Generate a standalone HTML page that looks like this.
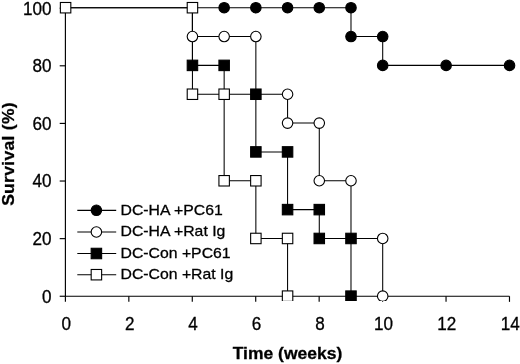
<!DOCTYPE html>
<html><head><meta charset="utf-8"><title>Survival</title>
<style>html,body{margin:0;padding:0;background:#fff;}svg{display:block;will-change:transform;}text{font-family:"Liberation Sans",sans-serif;fill:#000;stroke:#000;stroke-width:0.3px;}</style></head>
<body>
<svg width="520" height="364" viewBox="0 0 520 364">
<rect width="520" height="364" fill="#fff"/>
<g stroke="#000" stroke-width="1.15" fill="none">
<path d="M65.4 8.19V296.25H509.48"/>
<path d="M65.4 296.25v5.6"/>
<path d="M128.84 296.25v5.6"/>
<path d="M192.28 296.25v5.6"/>
<path d="M255.72 296.25v5.6"/>
<path d="M319.16 296.25v5.6"/>
<path d="M382.6 296.25v5.6"/>
<path d="M446.04 296.25v5.6"/>
<path d="M509.48 296.25v5.6"/>
<path d="M65.4 296.25h-5.7"/>
<path d="M65.4 238.64h-5.7"/>
<path d="M65.4 181.03h-5.7"/>
<path d="M65.4 123.41h-5.7"/>
<path d="M65.4 65.8h-5.7"/>
<path d="M65.4 8.19h-5.7"/>
</g>
<g font-size="17.1">
<text transform="translate(51.6 302.7) scale(1 1.03)" text-anchor="end">0</text>
<text transform="translate(51.6 245.09) scale(1 1.03)" text-anchor="end">20</text>
<text transform="translate(51.6 187.48) scale(1 1.03)" text-anchor="end">40</text>
<text transform="translate(51.6 129.86) scale(1 1.03)" text-anchor="end">60</text>
<text transform="translate(51.6 72.25) scale(1 1.03)" text-anchor="end">80</text>
<text transform="translate(51.6 14.64) scale(1 1.03)" text-anchor="end">100</text>
<text transform="translate(66.2 330.3) scale(1 1.03)" text-anchor="middle">0</text>
<text transform="translate(129.64 330.3) scale(1 1.03)" text-anchor="middle">2</text>
<text transform="translate(193.08 330.3) scale(1 1.03)" text-anchor="middle">4</text>
<text transform="translate(256.52 330.3) scale(1 1.03)" text-anchor="middle">6</text>
<text transform="translate(319.96 330.3) scale(1 1.03)" text-anchor="middle">8</text>
<text transform="translate(383.4 330.3) scale(1 1.03)" text-anchor="middle">10</text>
<text transform="translate(446.84 330.3) scale(1 1.03)" text-anchor="middle">12</text>
<text transform="translate(510.28 330.3) scale(1 1.03)" text-anchor="middle">14</text>
</g>
<text transform="translate(287.5 359.2) scale(1 0.98)" stroke-width="0.1" text-anchor="middle" font-size="17.5" font-weight="bold">Time (weeks)</text>
<text transform="translate(13.8 154.0) rotate(-90) scale(1 0.98)" stroke-width="0.1" text-anchor="middle" font-size="17.5" letter-spacing="0.3" font-weight="bold">Survival (%)</text>
<defs><clipPath id="c"><rect x="0" y="0" width="520" height="300.9"/></clipPath></defs>
<g clip-path="url(#c)">
<path d="M65.6 7.7 L350.99 7.7 L350.99 36.54 L382.7 36.54 L382.7 65.39 L509.54 65.39" fill="none" stroke="#000" stroke-width="1.05"/>
<path d="M192.44 7.7 L192.44 36.54 L255.86 36.54 L255.86 94.23 L287.57 94.23 L287.57 123.08 L319.28 123.08 L319.28 180.77 L350.99 180.77 L350.99 238.46 L382.7 238.46 L382.7 296.15" fill="none" stroke="#000" stroke-width="1.05"/>
<path d="M192.44 7.7 L192.44 65.39 L224.15 65.39 L224.15 94.23 L255.86 94.23 L255.86 151.92 L287.57 151.92 L287.57 209.61 L319.28 209.61 L319.28 238.46 L350.99 238.46 L350.99 296.15" fill="none" stroke="#000" stroke-width="1.05"/>
<path d="M65.6 7.7 L192.44 7.7 L192.44 94.23 L224.15 94.23 L224.15 180.77 L255.86 180.77 L255.86 238.46 L287.57 238.46 L287.57 296.15" fill="none" stroke="#000" stroke-width="1.05"/>
<circle cx="224.15" cy="7.7" r="5.25" fill="#000" stroke="#000" stroke-width="1.1"/>
<circle cx="255.86" cy="7.7" r="5.25" fill="#000" stroke="#000" stroke-width="1.1"/>
<circle cx="287.57" cy="7.7" r="5.25" fill="#000" stroke="#000" stroke-width="1.1"/>
<circle cx="319.28" cy="7.7" r="5.25" fill="#000" stroke="#000" stroke-width="1.1"/>
<circle cx="350.99" cy="7.7" r="5.25" fill="#000" stroke="#000" stroke-width="1.1"/>
<circle cx="350.99" cy="36.54" r="5.25" fill="#000" stroke="#000" stroke-width="1.1"/>
<circle cx="382.7" cy="36.54" r="5.25" fill="#000" stroke="#000" stroke-width="1.1"/>
<circle cx="382.7" cy="65.39" r="5.25" fill="#000" stroke="#000" stroke-width="1.1"/>
<circle cx="446.12" cy="65.39" r="5.25" fill="#000" stroke="#000" stroke-width="1.1"/>
<circle cx="509.54" cy="65.39" r="5.25" fill="#000" stroke="#000" stroke-width="1.1"/>
<circle cx="192.44" cy="36.54" r="5.25" fill="#fff" stroke="#000" stroke-width="1.1"/>
<circle cx="224.15" cy="36.54" r="5.25" fill="#fff" stroke="#000" stroke-width="1.1"/>
<circle cx="255.86" cy="36.54" r="5.25" fill="#fff" stroke="#000" stroke-width="1.1"/>
<circle cx="287.57" cy="94.23" r="5.25" fill="#fff" stroke="#000" stroke-width="1.1"/>
<circle cx="287.57" cy="123.08" r="5.25" fill="#fff" stroke="#000" stroke-width="1.1"/>
<circle cx="319.28" cy="123.08" r="5.25" fill="#fff" stroke="#000" stroke-width="1.1"/>
<circle cx="319.28" cy="180.77" r="5.25" fill="#fff" stroke="#000" stroke-width="1.1"/>
<circle cx="350.99" cy="180.77" r="5.25" fill="#fff" stroke="#000" stroke-width="1.1"/>
<circle cx="382.7" cy="238.46" r="5.25" fill="#fff" stroke="#000" stroke-width="1.1"/>
<circle cx="382.7" cy="296.15" r="5.25" fill="#fff" stroke="#000" stroke-width="1.1"/>
<rect x="187.22" y="60.16" width="10.45" height="10.45" fill="#000" stroke="#000" stroke-width="1.1"/>
<rect x="218.93" y="60.16" width="10.45" height="10.45" fill="#000" stroke="#000" stroke-width="1.1"/>
<rect x="250.64" y="89.01" width="10.45" height="10.45" fill="#000" stroke="#000" stroke-width="1.1"/>
<rect x="250.64" y="146.69" width="10.45" height="10.45" fill="#000" stroke="#000" stroke-width="1.1"/>
<rect x="282.34" y="146.69" width="10.45" height="10.45" fill="#000" stroke="#000" stroke-width="1.1"/>
<rect x="282.34" y="204.39" width="10.45" height="10.45" fill="#000" stroke="#000" stroke-width="1.1"/>
<rect x="314.05" y="204.39" width="10.45" height="10.45" fill="#000" stroke="#000" stroke-width="1.1"/>
<rect x="314.05" y="233.24" width="10.45" height="10.45" fill="#000" stroke="#000" stroke-width="1.1"/>
<rect x="345.76" y="233.24" width="10.45" height="10.45" fill="#000" stroke="#000" stroke-width="1.1"/>
<rect x="345.76" y="290.92" width="10.45" height="10.45" fill="#000" stroke="#000" stroke-width="1.1"/>
<rect x="60.37" y="2.48" width="10.45" height="10.45" fill="#fff" stroke="#000" stroke-width="1.1"/>
<rect x="187.22" y="2.48" width="10.45" height="10.45" fill="#fff" stroke="#000" stroke-width="1.1"/>
<rect x="187.22" y="89.01" width="10.45" height="10.45" fill="#fff" stroke="#000" stroke-width="1.1"/>
<rect x="218.93" y="89.01" width="10.45" height="10.45" fill="#fff" stroke="#000" stroke-width="1.1"/>
<rect x="218.93" y="175.55" width="10.45" height="10.45" fill="#fff" stroke="#000" stroke-width="1.1"/>
<rect x="250.64" y="175.55" width="10.45" height="10.45" fill="#fff" stroke="#000" stroke-width="1.1"/>
<rect x="250.64" y="233.24" width="10.45" height="10.45" fill="#fff" stroke="#000" stroke-width="1.1"/>
<rect x="282.34" y="233.24" width="10.45" height="10.45" fill="#fff" stroke="#000" stroke-width="1.1"/>
<rect x="282.34" y="290.92" width="10.45" height="10.45" fill="#fff" stroke="#000" stroke-width="1.1"/>
</g>
<path d="M77.3 210.3H116.2" stroke="#000" stroke-width="1.15"/>
<circle cx="96.4" cy="210.3" r="5.25" fill="#000" stroke="#000" stroke-width="1.1"/>
<text transform="translate(120.5 214.7) scale(1 0.97)" font-size="15.8">DC-HA +PC61</text>
<path d="M77.3 232.0H116.2" stroke="#000" stroke-width="1.15"/>
<circle cx="96.4" cy="232.0" r="5.25" fill="#fff" stroke="#000" stroke-width="1.1"/>
<text transform="translate(120.5 236.4) scale(1 0.97)" font-size="15.8">DC-HA +Rat Ig</text>
<path d="M77.3 253.5H116.2" stroke="#000" stroke-width="1.15"/>
<rect x="91.18" y="248.28" width="10.45" height="10.45" fill="#000" stroke="#000" stroke-width="1.1"/>
<text transform="translate(120.5 257.9) scale(1 0.97)" font-size="15.8">DC-Con +PC61</text>
<path d="M77.3 274.7H116.2" stroke="#000" stroke-width="1.15"/>
<rect x="91.18" y="269.47" width="10.45" height="10.45" fill="#fff" stroke="#000" stroke-width="1.1"/>
<text transform="translate(120.5 279.1) scale(1 0.97)" font-size="15.8">DC-Con +Rat Ig</text>
</svg>
</body></html>
